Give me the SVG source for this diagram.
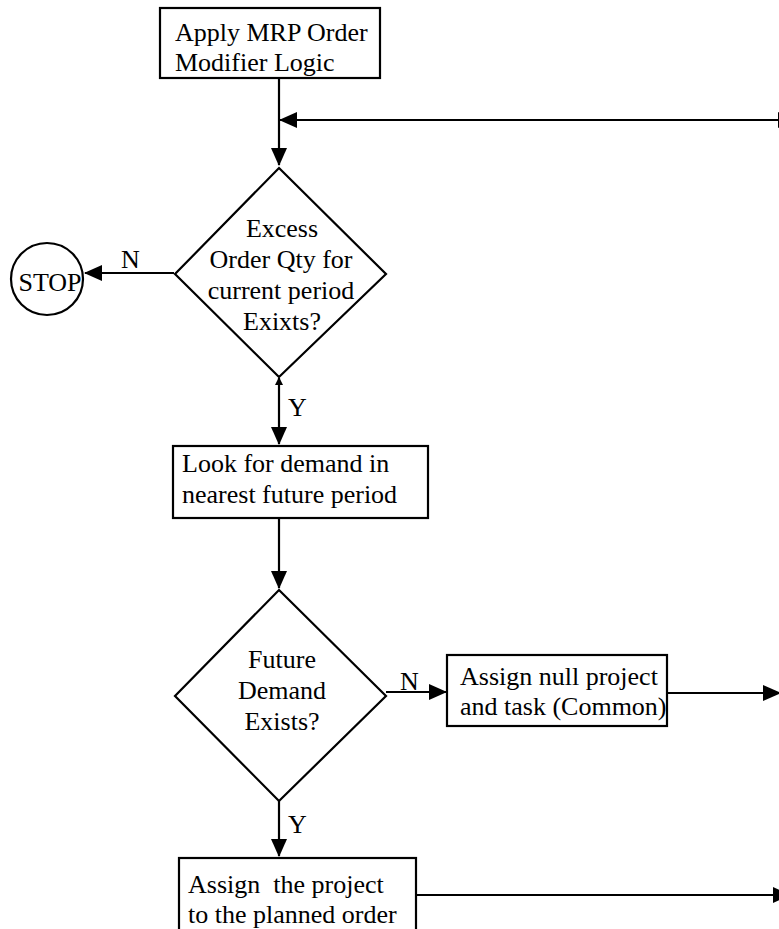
<svg xmlns="http://www.w3.org/2000/svg" width="779" height="929" viewBox="0 0 779 929">
<style>
.shape{fill:#fff;stroke:#000;stroke-width:2.2}
.line{fill:none;stroke:#000;stroke-width:2.2}
text{font-family:"Liberation Serif","Times New Roman",serif;font-size:26px;fill:#000}
.c{text-anchor:middle}
</style>
<defs>
<marker id="ah" viewBox="0 0 18 16" refX="17" refY="8" markerWidth="18" markerHeight="16" markerUnits="userSpaceOnUse" orient="auto-start-reverse">
<path d="M0,0 L18,8 L0,16 Z" fill="#000"/>
</marker>
<marker id="ahs" viewBox="0 0 8 8" refX="7" refY="4" markerWidth="8" markerHeight="8" markerUnits="userSpaceOnUse" orient="auto-start-reverse">
<path d="M0,0 L8,4 L0,8 Z" fill="#000"/>
</marker>
</defs>
<g id="connectors">
<line class="line" x1="279" y1="78" x2="279" y2="165" marker-end="url(#ah)"/>
<line class="line" x1="280" y1="120" x2="795" y2="120" marker-start="url(#ah)" marker-end="url(#ah)"/>
<line class="line" x1="174" y1="273" x2="85" y2="273" marker-end="url(#ah)"/>
<text x="121" y="268">N</text>
<line class="line" x1="279" y1="378" x2="279" y2="444" marker-start="url(#ahs)" marker-end="url(#ah)"/>
<text x="288" y="416">Y</text>
<line class="line" x1="279" y1="518" x2="279" y2="588" marker-end="url(#ah)"/>
<line class="line" x1="386" y1="692" x2="446" y2="692" marker-end="url(#ah)"/>
<text x="400" y="690">N</text>
<line class="line" x1="667" y1="693" x2="780" y2="693" marker-end="url(#ah)"/>
<line class="line" x1="279" y1="801" x2="279" y2="856" marker-end="url(#ah)"/>
<text x="288" y="833">Y</text>
<line class="line" x1="416" y1="895" x2="790" y2="895" marker-end="url(#ah)"/>
</g>
<g id="apply-mrp">
<rect class="shape" x="160" y="8" width="220" height="70"/>
<text x="175" y="41">Apply MRP Order</text>
<text x="175" y="71">Modifier Logic</text>
</g>
<g id="excess-decision">
<polygon class="shape" points="279,168 386,274 279,377 175,274"/>
<text class="c" x="282" y="237">Excess</text>
<text class="c" x="281" y="268">Order Qty for</text>
<text class="c" x="281" y="299">current period</text>
<text class="c" x="282" y="330">Exixts?</text>
</g>
<g id="stop">
<circle class="shape" cx="47" cy="279" r="36"/>
<text class="c" x="50" y="291">STOP</text>
</g>
<g id="look-demand">
<rect class="shape" x="173" y="446" width="255" height="72"/>
<text x="182" y="472">Look for demand in</text>
<text x="182" y="503">nearest future period</text>
</g>
<g id="future-decision">
<polygon class="shape" points="279,590 386,696 279,801 175,696"/>
<text class="c" x="282" y="668">Future</text>
<text class="c" x="282" y="699">Demand</text>
<text class="c" x="282" y="730">Exists?</text>
</g>
<g id="assign-null">
<rect class="shape" x="447" y="655" width="220" height="71"/>
<text x="460" y="685">Assign null project</text>
<text x="460" y="715">and task (Common)</text>
</g>
<g id="assign-project">
<rect class="shape" x="179" y="858" width="237" height="80"/>
<text x="188" y="893" xml:space="preserve">Assign  the project</text>
<text x="188" y="923">to the planned order</text>
</g>
</svg>
